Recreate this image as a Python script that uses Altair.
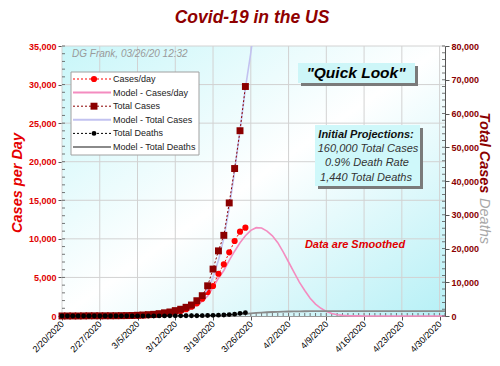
import altair as alt
import pandas as pd

FONT = "Liberation Sans"
W, H = 383, 270

# ---------------- data ----------------
days = pd.date_range("2020-02-20", "2020-05-01", freq="D").strftime("%Y-%m-%d").tolist()
week_ticks = ["2020-02-20", "2020-02-27", "2020-03-05", "2020-03-12", "2020-03-19", "2020-03-26",
              "2020-04-02", "2020-04-09", "2020-04-16", "2020-04-23", "2020-04-30"]

cases_per_day = [0, 0, 0, 0, 0, 0, 0, 0, 5, 5,
                 10, 15, 25, 35, 50, 70, 100, 140, 190, 260,
                 350, 480, 650, 870, 1210, 1640, 2240, 3110, 3890, 5480,
                 6700, 8250, 9720, 10930, 11450]
total_cases = [15, 15, 15, 15, 35, 55, 60, 60, 65, 70,
               75, 100, 120, 150, 220, 300, 400, 500, 700, 950,
               1200, 1600, 2000, 2580, 3260, 4530, 6020, 8950, 13900, 19300,
               23900, 33500, 43700, 54900, 68000]
total_deaths = [0, 0, 0, 0, 0, 0, 0, 0, 0, 1,
                1, 6, 9, 11, 12, 14, 17, 21, 26, 30,
                38, 41, 49, 57, 68, 85, 108, 150, 200, 255,
                300, 420, 550, 780, 1000]
model_cases_per_day = [0, 0, 0, 0, 0, 0, 0, 0, 5, 10,
                       15, 20, 30, 40, 55, 75, 100, 130, 170, 220,
                       300, 400, 550, 750, 1000, 1400, 1900, 2600, 3700, 4900,
                       5900, 7200, 8400, 9500, 10400, 11100, 11450, 11400, 11000, 10400,
                       9500, 8300, 7000, 5700, 4400, 3300, 2300, 1550, 1000, 600,
                       330, 170, 80, 40, 20, 10, 5, 0, 0, 0,
                       0, 0, 0, 0, 0, 0, 0, 0, 0, 0, 0, 0]
model_total_cases = [0, 0, 0, 0, 0, 0, 10, 20, 30, 40,
                     60, 80, 110, 150, 200, 270, 360, 480, 640, 850,
                     1100, 1450, 1900, 2500, 3300, 4400, 5800, 8000, 11500, 16500,
                     23000, 32000, 43000, 55000, 67500, 78000, 90000]
model_total_deaths = [0, 0, 0, 0, 0, 0, 0, 0, 0, 0,
                      0, 0, 0, 0, 0, 0, 0, 0, 0, 0,
                      5, 8, 12, 18, 25, 35, 50, 70, 100, 140,
                      210, 290, 390, 510, 650, 800, 920, 1020, 1110, 1190,
                      1250, 1300, 1340, 1370, 1395, 1410, 1420, 1428, 1434, 1438,
                      1440, 1440, 1440, 1440, 1440, 1440, 1440, 1440, 1440, 1440,
                      1440, 1440, 1440, 1440, 1440, 1440, 1440, 1440, 1440, 1440, 1440, 1440]

legend_labels = ["Cases/day", "Model - Cases/day", "Total Cases",
                 "Model - Total Cases", "Total Deaths", "Model - Total Deaths"]
left_ticks = [0, 5000, 10000, 15000, 20000, 25000, 30000, 35000]
right_ticks = [0, 10000, 20000, 30000, 40000, 50000, 60000, 70000, 80000]

# ---------------- tables ----------------
n_obs = len(cases_per_day)
obs = pd.DataFrame({"date": days[:n_obs], "cpd": cases_per_day,
                    "tc": total_cases, "td": total_deaths})
mod = pd.DataFrame({"date": days, "mcpd": model_cases_per_day, "mtd": model_total_deaths})
mtc = pd.DataFrame({"date": days[:len(model_total_cases)], "mtc": model_total_cases})
weeks_df = pd.DataFrame({"date": week_ticks})
days_df = pd.DataFrame({"date": days})
lgrid_df = pd.DataFrame({"cpd": left_ticks[1:]})
lminor_df = pd.DataFrame({"cpd": list(range(0, 35001, 1000))})
rminor_df = pd.DataFrame({"tc": list(range(0, 80001, 2000))})
one = pd.DataFrame({"k": [0]})

RED = "#ff0000"
MAROON = "#8b0000"
PINK = "#f48cc0"
LAV = "#c2c2f0"
GRAY = "#8a8a8a"
GRID = "#d2d2d2"
AX = "#555555"


def dt(s):
    y, m, d = (int(p) for p in s.split("-"))
    return alt.DateTime(year=y, month=m, date=d, utc=True)


xscale = alt.Scale(type="utc", domain=[dt("2020-02-20"), dt("2020-05-01")], nice=False)
lscale = alt.Scale(domain=[0, 35000], nice=False)
rscale = alt.Scale(domain=[0, 80000], nice=False)

xaxis = alt.Axis(values=[dt(s) for s in week_ticks],
                 labelExpr="utcFormat(datum.value, '%-m/%-d/%Y')",
                 labelAngle=315, labelAlign="right", labelBaseline="middle",
                 labelFontSize=9, labelColor="#000000", labelPadding=2,
                 labelOverlap=False, labelBound=False, labelFlush=False,
                 tickSize=4, tickColor=AX, domainColor="#999999", grid=False, title="")
laxis = alt.Axis(orient="left", values=left_ticks,
                 labelExpr="format(datum.value, ',.0f')", labelColor="#e00000",
                 labelFontWeight="bold", labelFontSize=9, labelPadding=2,
                 tickSize=4, tickColor=AX, domainColor=AX, grid=False, title="")
raxis = alt.Axis(orient="right", values=right_ticks,
                 labelExpr="format(datum.value, ',.0f')", labelColor=MAROON,
                 labelFontWeight="bold", labelFontSize=9, labelPadding=2,
                 tickSize=4, tickColor=AX, domainColor=AX, grid=False, title="")


def X(field="date"):
    return alt.X(f"{field}:T", scale=xscale, axis=xaxis)


def YL(field="cpd"):
    return alt.Y(f"{field}:Q", scale=lscale, axis=laxis)


def YR(field="tc"):
    return alt.Y(f"{field}:Q", scale=rscale, axis=raxis)


# ---------------- background group ----------------
grad = {"gradient": "linear", "x1": 0, "y1": 0, "x2": 1, "y2": 1,
        "stops": [{"offset": 0, "color": "#c8f6f9"},
                  {"offset": 0.5, "color": "#ffffff"},
                  {"offset": 1, "color": "#b6f0f6"}]}
bg_rect = alt.Chart(one).mark_rect(fill=grad).encode(
    x=alt.value(0), x2=alt.value(W), y=alt.value(0), y2=alt.value(H))
xgrid = alt.Chart(weeks_df).mark_rule(color=GRID, strokeWidth=1).encode(
    x=X(), y=alt.value(0), y2=alt.value(H))
xminor = alt.Chart(days_df).mark_rule(color=AX, strokeWidth=0.8).encode(
    x=X(), y=alt.value(H - 3), y2=alt.value(H))
bg_group = alt.layer(bg_rect, xgrid, xminor)

# ---------------- left-axis group ----------------
ygrid = alt.Chart(lgrid_df).mark_rule(color=GRID, strokeWidth=1).encode(
    y=YL(), x=alt.value(0), x2=alt.value(W))
lminor = alt.Chart(lminor_df).mark_rule(color=AX, strokeWidth=0.8).encode(
    y=YL(), x=alt.value(0), x2=alt.value(3))
pink = alt.Chart(mod).mark_line(color=PINK, strokeWidth=1.6).encode(x=X(), y=YL("mcpd"))
red_line = alt.Chart(obs).mark_line(color=RED, strokeWidth=1, strokeDash=[2, 2]).encode(
    x=X(), y=YL())
red_pts = alt.Chart(obs).mark_point(shape="circle", filled=True, size=38, color=RED,
                                    opacity=1).encode(x=X(), y=YL())
left_group = alt.layer(ygrid, lminor, pink, red_line, red_pts)

# ---------------- right-axis group ----------------
rminor = alt.Chart(rminor_df).mark_rule(color=AX, strokeWidth=0.8).encode(
    y=YR(), x=alt.value(W - 3), x2=alt.value(W))
lav = alt.Chart(mtc).mark_line(color=LAV, strokeWidth=1.6, clip=True).encode(
    x=X(), y=YR("mtc"))
gray = alt.Chart(mod).mark_line(color=GRAY, strokeWidth=1.8).encode(x=X(), y=YR("mtd"))
sq_line = alt.Chart(obs).mark_line(color=MAROON, strokeWidth=1, strokeDash=[2, 2]).encode(
    x=X(), y=YR())
sq_pts = alt.Chart(obs).mark_point(shape="square", filled=True, size=48, color=MAROON,
                                   opacity=1).encode(x=X(), y=YR())
bk_line = alt.Chart(obs).mark_line(color="#000000", strokeWidth=1, strokeDash=[2, 2]).encode(
    x=X(), y=YR("td"))
bk_pts = alt.Chart(obs).mark_point(shape="circle", filled=True, size=24, color="#000000",
                                   opacity=1).encode(x=X(), y=YR("td"))
right_group = alt.layer(rminor, lav, gray, sq_line, sq_pts, bk_line, bk_pts)


# ---------------- annotations ----------------
def txt(s, x, y, size, color, weight="normal", style="italic", align="center", angle=0):
    return alt.Chart(one).mark_text(text=s, font=FONT, fontSize=size, color=color,
                                    fontWeight=weight, fontStyle=style, align=align,
                                    baseline="middle", angle=angle).encode(
        x=alt.value(x), y=alt.value(y))


def box(x1, y1, x2, y2, fill, stroke="#ffffff", sw=0):
    return alt.Chart(one).mark_rect(fill=fill, stroke=stroke, strokeWidth=sw).encode(
        x=alt.value(x1), x2=alt.value(x2), y=alt.value(y1), y2=alt.value(y2))


def hline(x1, x2, y, color, width=1, dash=None):
    kw = {"color": color, "strokeWidth": width}
    if dash:
        kw["strokeDash"] = dash
    return alt.Chart(one).mark_rule(**kw).encode(x=alt.value(x1), x2=alt.value(x2), y=alt.value(y))


def marker(x, y, shape, size, color):
    return alt.Chart(one).mark_point(shape=shape, filled=True, size=size, color=color,
                                     opacity=1).encode(x=alt.value(x), y=alt.value(y))


ann = [
    txt("Covid-19 in the US", 190, -28, 17.5, "#8f0000", weight="bold"),
    txt("Cases per Day", -44, 137, 14.5, "#e60000", weight="bold", angle=270),
    txt("Total Cases", 422, 107, 14.5, MAROON, weight="bold", angle=90),
    txt("Deaths", 422, 175, 14.5, "#a8a8a8", angle=90),
    txt("DG Frank, 03/26/20 12:32", 10, 8, 10, "#9a9a9a", align="left"),
]

# legend
LX1, LX2, LMK, LTX = 11, 49, 32, 51
ly = [33 + 13.6 * i for i in range(len(legend_labels))]
ann.append(box(9, 26, 137, 109, "#ffffff", "#a0a0a0", 1))
ann += [
    hline(LX1, LX2, ly[0], RED, 1, [2, 2]), marker(LMK, ly[0], "circle", 38, RED),
    hline(LX1, LX2, ly[1], PINK, 2),
    hline(LX1, LX2, ly[2], MAROON, 1, [2, 2]), marker(LMK, ly[2], "square", 48, MAROON),
    hline(LX1, LX2, ly[3], LAV, 2),
    hline(LX1, LX2, ly[4], "#000000", 1, [2, 2]), marker(LMK, ly[4], "circle", 24, "#000000"),
    hline(LX1, LX2, ly[5], GRAY, 2),
]
legend_df = pd.DataFrame({"label": legend_labels, "py": ly})
ann.append(alt.Chart(legend_df).mark_text(font=FONT, fontSize=9, color="#222222",
                                          align="left", baseline="middle").encode(
    x=alt.value(LTX), y=alt.Y("py:Q", scale=None, axis=None), text="label:N"))

# "Quick Look" box
ann += [
    box(239, 20, 356, 40, "#7a7a7a"),
    box(236, 17, 353, 37, "#cdf6f8"),
    txt('"Quick Look"', 294, 27, 15.5, "#000000", weight="bold"),
]
# projections box
ann += [
    box(256, 82, 361, 143, "#7a7a7a"),
    box(253, 79, 358, 140, "#cff8fa"),
    txt("Initial Projections:", 304, 89, 11, "#111111", weight="bold"),
    txt("160,000 Total Cases", 306, 102.5, 11, "#333333"),
    txt("0.9% Death Rate", 305, 117, 11, "#333333"),
    txt("1,440 Total Deaths", 304, 131.5, 11, "#333333"),
]
ann.append(txt("Data are Smoothed", 293, 199, 11, "#e00000", weight="bold"))

ann_group = alt.layer(*ann)

chart = alt.layer(bg_group, left_group, right_group, ann_group).resolve_scale(
    y="independent"
).properties(
    width=W, height=H,
    padding={"left": 54, "top": 38, "right": 47, "bottom": 42},
    autosize=alt.AutoSizeParams(type="none"),
    background="#ffffff",
).configure(font=FONT).configure_view(stroke="#c4c4c4")

chart.save("out.html", embed_options={"renderer": "svg", "actions": False})
